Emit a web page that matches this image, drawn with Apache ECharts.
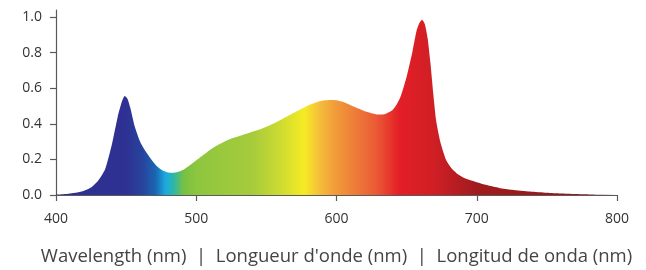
<!DOCTYPE html>
<html>
<head>
<meta charset="utf-8">
<script src="https://cdn.jsdelivr.net/npm/echarts@6/dist/echarts.min.js"></script>
<style>
  html, body { margin: 0; padding: 0; background: #fff; }
  #chart { width: 646px; height: 270px; }
</style>
</head>
<body>
<div id="chart"></div>
<script>
// wavelength (nm) and relative intensity
const wavelengths = [400, 405, 410, 415, 420, 425, 430, 435, 440, 444, 447, 449, 451, 453, 456, 460, 464, 468, 472, 476, 480, 484, 488, 492, 496, 500, 505, 510, 515, 520, 526, 532, 538, 544, 550, 556, 562, 568, 574, 580, 586, 592, 598, 604, 610, 616, 622, 628, 632, 636, 640, 643, 646, 650, 654, 657, 659, 661, 663, 665, 667, 669, 671, 674, 678, 682, 686, 690, 695, 700, 707, 716, 725, 738, 750, 760, 770, 780, 790, 800];
const intensity = [0.002, 0.004, 0.008, 0.014, 0.024, 0.042, 0.08, 0.145, 0.29, 0.44, 0.525, 0.556, 0.54, 0.49, 0.39, 0.3, 0.245, 0.2, 0.162, 0.138, 0.127, 0.125, 0.132, 0.148, 0.17, 0.195, 0.225, 0.255, 0.28, 0.3, 0.32, 0.335, 0.35, 0.365, 0.384, 0.405, 0.43, 0.455, 0.48, 0.505, 0.522, 0.532, 0.534, 0.525, 0.505, 0.485, 0.466, 0.454, 0.452, 0.46, 0.478, 0.51, 0.56, 0.665, 0.8, 0.92, 0.965, 0.985, 0.96, 0.88, 0.74, 0.57, 0.42, 0.3, 0.2, 0.15, 0.12, 0.1, 0.084, 0.072, 0.056, 0.04, 0.03, 0.019, 0.012, 0.008, 0.005, 0.003, 0.0015, 0.0008];

const xTicks = [400, 500, 600, 700, 800];
const yTicks = [0, 0.2, 0.4, 0.6, 0.8, 1.0];
const axisTitle = 'Wavelength (nm)  |  Longueur d\'onde (nm)  |  Longitud de onda (nm)';

// spectrum colours by wavelength
const spectrum = [
    [400, '#2e3192'], [450, '#2e3192'], [462, '#27449d'], [471, '#1b65b2'],
    [478, '#1ba9e1'], [484, '#2fb6a8'], [491, '#78c043'], [500, '#8dc63f'],
    [540, '#a6cb3b'], [560, '#cddb31'], [577, '#f5eb24'], [588, '#f5bd3a'],
    [600, '#f19a3a'], [628, '#ea5b36'], [645, '#e31e26'], [670, '#cf1f25'],
    [700, '#a01b1e'], [800, '#8a1a1a']
];

const chart = echarts.init(document.getElementById('chart'));

const lo = xTicks[0], hi = xTicks[xTicks.length - 1];
const fill = new echarts.graphic.LinearGradient(0, 0, 1, 0,
    spectrum.map(s => ({ offset: (s[0] - lo) / (hi - lo), color: s[1] })));

const axisGrey = '#5a5a5a';

chart.setOption({
    animation: false,
    grid: { left: 56, right: 29, top: 10, bottom: 75, outerBoundsMode: 'none', containLabel: false },
    xAxis: {
        type: 'value',
        min: lo,
        max: hi,
        interval: 100,
        name: axisTitle,
        nameLocation: 'middle',
        nameGap: 52,
        nameTextStyle: { fontFamily: 'Open Sans', fontSize: 18.5, color: '#444' },
        axisLine: { lineStyle: { color: axisGrey, width: 1.2 } },
        axisTick: { length: 6, lineStyle: { color: axisGrey, width: 1.2 } },
        axisLabel: { fontFamily: 'Open Sans', fontSize: 14, color: '#333', margin: 17 },
        splitLine: { show: false }
    },
    yAxis: {
        type: 'value',
        min: 0,
        max: 1.04,
        axisLine: { show: true, lineStyle: { color: axisGrey, width: 1.2 } },
        axisTick: { show: true, length: 6, customValues: yTicks, lineStyle: { color: axisGrey, width: 1.2 } },
        axisLabel: {
            customValues: yTicks,
            fontFamily: 'Open Sans', fontSize: 14, color: '#333', margin: 14,
            formatter: v => v.toFixed(1)
        },
        splitLine: { show: false }
    },
    series: [{
        type: 'line',
        data: wavelengths.map((w, i) => [w, intensity[i]]),
        smooth: 0.2,
        showSymbol: false,
        lineStyle: { width: 0 },
        areaStyle: { color: fill, opacity: 1 },
        z: 1
    }]
});
</script>
</body>
</html>
